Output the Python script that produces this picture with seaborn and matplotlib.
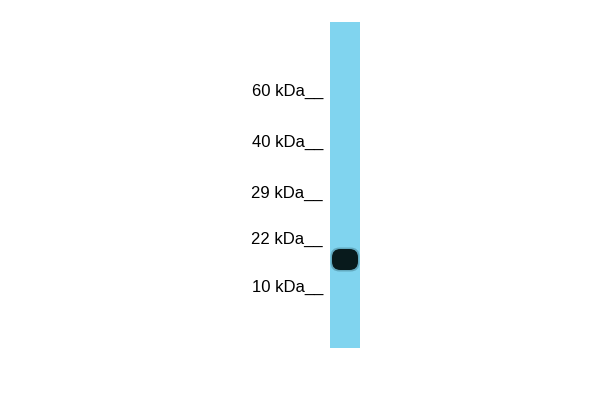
import matplotlib
matplotlib.use("Agg")
import matplotlib.pyplot as plt
from matplotlib.patches import Rectangle, FancyBboxPatch
import seaborn as sns

# ladder markers and their migration (pixels from top of image)
marker_labels = ['60 kDa', '40 kDa', '29 kDa', '22 kDa', '10 kDa']
marker_migration = [96, 147, 198, 244, 292]

# detected band
band_migration = [259.5]
band_width = [27]
band_height = [22]

sns.set_style("white")
plt.rcParams['font.family'] = ['Liberation Sans', 'DejaVu Sans']

fig = plt.figure(figsize=(6, 4), dpi=100)
ax = fig.add_axes([0, 0, 1, 1])
ax.set(xlim=(0, 600), ylim=(400, 0))
ax.axis('off')

lane_x, lane_w, lane_top, lane_bot = 330, 30, 22, 348
ax.add_patch(Rectangle((lane_x, lane_top), lane_w, lane_bot - lane_top,
                       facecolor='#80d4ef', edgecolor='none'))

for lab, y in zip(marker_labels, marker_migration):
    ax.text(323, y, lab + '__', ha='right', va='baseline', fontsize=12, color='black')

cx = lane_x + lane_w / 2
for y, w, h in zip(band_migration, band_width, band_height):
    # faint halo then dark core
    ax.add_patch(FancyBboxPatch((cx - w / 2 + 8, y - h / 2 + 8), w - 16, h - 16,
                                boxstyle='round,pad=9', facecolor='#2b5a66',
                                edgecolor='none', alpha=0.35))
    ax.add_patch(FancyBboxPatch((cx - w / 2 + 9, y - h / 2 + 9), w - 18, h - 18,
                                boxstyle='round,pad=8.5', facecolor='#081a1c', edgecolor='none'))

fig.savefig('out.png', dpi=100)
